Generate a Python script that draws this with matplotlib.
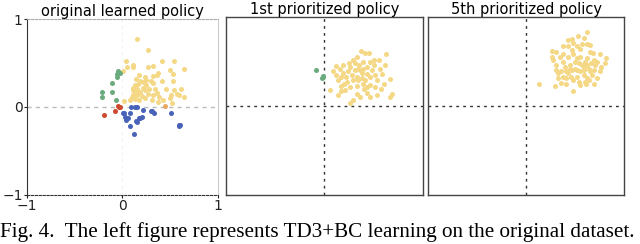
import numpy as np
import matplotlib
matplotlib.use("Agg")
import matplotlib.pyplot as plt

# ---- data ----
titles = ['original learned policy', '1st prioritized policy', '5th prioritized policy']
caption = 'Fig. 4.  The left figure represents TD3+BC learning on the original dataset.'

# panel 1: original learned policy
p1_yellow_x = [0.15, 0.27, 0.04, 0.11, 0.11, 0.42, 0.54, 0.05, 0.01, 0.32, 0.27, 0.65, 0.50, 0.53,
               0.37, 0.36, 0.24, 0.25, 0.14, 0.19, 0.22, 0.30, 0.32, 0.17, 0.13, 0.11, 0.11, 0.13,
               0.15, 0.11, 0.10, 0.13, 0.25, 0.22, 0.28, 0.24, 0.19, 0.27, 0.34, 0.36, 0.39, 0.38,
               0.53, 0.54, 0.51, 0.50, 0.52, 0.62, 0.60, 0.65, 0.57, 0.43, 0.31, 0.08, 0.02, 0.18,
               0.24, 0.32, 0.18, 0.16, 0.21, 0.32, 0.42, 0.46]
p1_yellow_y = [0.77, 0.65, 0.52, 0.48, 0.45, 0.52, 0.52, 0.45, 0.41, 0.47, 0.45, 0.43, 0.42, 0.38,
               0.39, 0.36, 0.34, 0.31, 0.32, 0.29, 0.28, 0.30, 0.27, 0.26, 0.25, 0.22, 0.19, 0.17,
               0.14, 0.14, 0.11, 0.09, 0.25, 0.22, 0.21, 0.19, 0.17, 0.15, 0.20, 0.16, 0.11, 0.06,
               0.29, 0.19, 0.14, 0.10, 0.04, 0.21, 0.14, 0.11, 0.15, 0.08, 0.08, 0.08, 0.07, 0.08,
               0.10, 0.35, 0.36, 0.21, 0.12, 0.14, 0.29, 0.21]
p1_green_x = [-0.04, -0.02, -0.05, -0.06, -0.11, -0.21, -0.11, -0.21, -0.07]
p1_green_y = [0.41, 0.39, 0.37, 0.34, 0.27, 0.17, 0.17, 0.11, 0.08]
p1_red_x = [-0.04, -0.02, -0.03, -0.08, -0.19]
p1_red_y = [0.01, 0.00, 0.00, -0.05, -0.09]
p1_orange_x = [0.45]
p1_orange_y = [0.01]
p1_blue_x = [0.09, 0.13, 0.15, 0.22, 0.01, 0.03, 0.04, 0.06, 0.08, 0.14, 0.18, 0.21, 0.08, 0.12,
             0.31, 0.33, 0.51, 0.60, 0.59, 0.61, 0.02, 0.19, 0.15, 0.30]
p1_blue_y = [0.00, 0.00, 0.00, -0.03, -0.07, -0.11, -0.15, -0.13, -0.07, -0.16, -0.13, -0.11, -0.22, -0.31,
             -0.05, -0.07, -0.07, -0.20, -0.22, -0.20, -0.07, -0.12, -0.17, -0.05]

# panel 2: 1st prioritized policy
p2_green_x = [-0.09, -0.02, -0.03, -0.01]
p2_green_y = [0.41, 0.33, 0.32, 0.34]
p2_yellow_x = [0.37, 0.41, 0.45, 0.62, 0.33, 0.29, 0.25, 0.19, 0.12, 0.16, 0.55, 0.61, 0.56, 0.66,
               0.06, 0.69, 0.66, 0.46, 0.29, 0.26, 0.53, 0.40, 0.43, 0.33, 0.23, 0.17, 0.12, 0.14,
               0.20, 0.26, 0.34, 0.38, 0.48, 0.51, 0.43, 0.39, 0.35, 0.31, 0.28, 0.33, 0.38, 0.43,
               0.50, 0.57, 0.46, 0.39, 0.33, 0.21, 0.17, 0.14, 0.36, 0.24, 0.29, 0.41, 0.46, 0.53,
               0.58, 0.50, 0.26, 0.19, 0.34, 0.39, 0.46, 0.22, 0.09, 0.17, 0.43, 0.51, 0.60, 0.31,
               0.36]
p2_yellow_y = [0.62, 0.60, 0.60, 0.59, 0.55, 0.52, 0.48, 0.46, 0.45, 0.42, 0.52, 0.46, 0.42, 0.30,
               0.18, 0.13, 0.10, 0.10, 0.07, 0.03, 0.12, 0.19, 0.15, 0.22, 0.27, 0.33, 0.35, 0.29,
               0.25, 0.21, 0.29, 0.31, 0.40, 0.35, 0.36, 0.42, 0.46, 0.40, 0.35, 0.33, 0.37, 0.44,
               0.46, 0.19, 0.24, 0.25, 0.14, 0.18, 0.22, 0.12, 0.10, 0.39, 0.29, 0.29, 0.33, 0.29,
               0.36, 0.52, 0.44, 0.37, 0.42, 0.50, 0.50, 0.33, 0.39, 0.17, 0.21, 0.21, 0.25, 0.48,
               0.40]

# panel 3: 5th prioritized policy
p3_yellow_x = [0.62, 0.53, 0.59, 0.43, 0.48, 0.65, 0.26, 0.31, 0.38, 0.47, 0.55, 0.68, 0.76, 0.82,
               0.81, 0.77, 0.69, 0.48, 0.30, 0.13, 0.55, 0.62, 0.38, 0.31, 0.33, 0.43, 0.52, 0.59,
               0.60, 0.64, 0.67, 0.72, 0.48, 0.41, 0.45, 0.38, 0.35, 0.28, 0.52, 0.55, 0.62, 0.69,
               0.48, 0.43, 0.59, 0.65, 0.45, 0.47, 0.41, 0.57, 0.62, 0.54, 0.50, 0.40, 0.36, 0.52,
               0.59, 0.64, 0.69, 0.72, 0.41, 0.33, 0.26, 0.52, 0.62, 0.57, 0.47, 0.65, 0.70, 0.76,
               0.46, 0.54, 0.61, 0.36, 0.31, 0.38, 0.43, 0.50, 0.55, 0.60, 0.66]
p3_yellow_y = [0.83, 0.79, 0.76, 0.74, 0.71, 0.69, 0.62, 0.61, 0.67, 0.63, 0.64, 0.60, 0.59, 0.54,
               0.48, 0.44, 0.25, 0.17, 0.22, 0.25, 0.24, 0.31, 0.33, 0.40, 0.37, 0.37, 0.40, 0.44,
               0.50, 0.42, 0.35, 0.32, 0.29, 0.31, 0.46, 0.50, 0.55, 0.52, 0.54, 0.55, 0.54, 0.52,
               0.59, 0.55, 0.40, 0.39, 0.42, 0.40, 0.39, 0.46, 0.46, 0.48, 0.50, 0.44, 0.39, 0.33,
               0.35, 0.29, 0.40, 0.50, 0.25, 0.31, 0.55, 0.67, 0.70, 0.70, 0.75, 0.61, 0.46, 0.39,
               0.33, 0.27, 0.25, 0.26, 0.46, 0.59, 0.67, 0.42, 0.39, 0.27, 0.48]

c_yellow = '#f4d886'
c_green = '#6aab7e'
c_red = '#cc4a2e'
c_orange = '#e8a865'
c_blue = '#4863b8'
ms = 13

fig = plt.figure(figsize=(6.4, 2.44), dpi=100)
ax1 = fig.add_axes([0.042, 0.201, 0.298, 0.721])
ax2 = fig.add_axes([0.353, 0.201, 0.308, 0.729])
ax3 = fig.add_axes([0.669, 0.201, 0.306, 0.729])

for ax in (ax1, ax2, ax3):
    ax.set_xlim(-1, 1)
    ax.set_ylim(-1, 1)

# panel 1
ax1.axhline(0, color='#bbbbbb', linestyle=(0, (3, 3)), linewidth=1.0, zorder=1)
ax1.axvline(0, color='#f2f2f2', linestyle=(0, (3, 3)), linewidth=0.8, zorder=1)
ax1.scatter(p1_yellow_x, p1_yellow_y, s=ms, color=c_yellow, linewidths=0, zorder=2)
ax1.scatter(p1_green_x, p1_green_y, s=ms, color=c_green, linewidths=0, zorder=2)
ax1.scatter(p1_red_x, p1_red_y, s=ms, color=c_red, linewidths=0, zorder=2)
ax1.scatter(p1_orange_x, p1_orange_y, s=ms, color=c_orange, linewidths=0, zorder=2)
ax1.scatter(p1_blue_x, p1_blue_y, s=ms, color=c_blue, linewidths=0, zorder=2)
ax1.set_xticks([-1, 0, 1])
ax1.set_yticks([-1, 0, 1])
ax1.set_xticklabels(['\u22121', '0', '1'])
ax1.set_yticklabels(['\u22121', '0', '1'])
ax1.tick_params(length=2, width=0.8, pad=1, labelsize=10, colors='#222222')
ax1.spines['left'].set_color('#333333')
ax1.spines['bottom'].set_color('#333333')
ax1.spines['bottom'].set_linestyle((0, (2, 1.5)))
ax1.spines['top'].set_color('#aaaaaa')
ax1.spines['top'].set_linestyle((0, (2, 1.5)))
ax1.spines['right'].set_color('#cccccc')
ax1.set_title(titles[0], fontsize=10.5, pad=2)

# panels 2 and 3
for ax in (ax2, ax3):
    ax.axhline(0, color='#333333', linestyle=(0, (2, 3)), linewidth=1.0, zorder=1)
    ax.axvline(0, color='#333333', linestyle=(0, (2, 3)), linewidth=1.0, zorder=1)
    ax.set_xticks([])
    ax.set_yticks([])
    for sp in ax.spines.values():
        sp.set_color('#444444')
        sp.set_linewidth(1.0)

ax2.scatter(p2_yellow_x, p2_yellow_y, s=ms, color=c_yellow, linewidths=0, zorder=2)
ax2.scatter(p2_green_x, p2_green_y, s=ms, color=c_green, linewidths=0, zorder=2)
ax2.set_title(titles[1], fontsize=10.5, pad=2)

ax3.scatter(p3_yellow_x, p3_yellow_y, s=ms, color=c_yellow, linewidths=0, zorder=2)
ax3.set_title(titles[2], fontsize=10.5, pad=2)

fig.text(0.0, 0.029, caption, fontsize=15.2, family='Liberation Serif', ha='left', va='baseline')

fig.savefig('out.png', dpi=100)
